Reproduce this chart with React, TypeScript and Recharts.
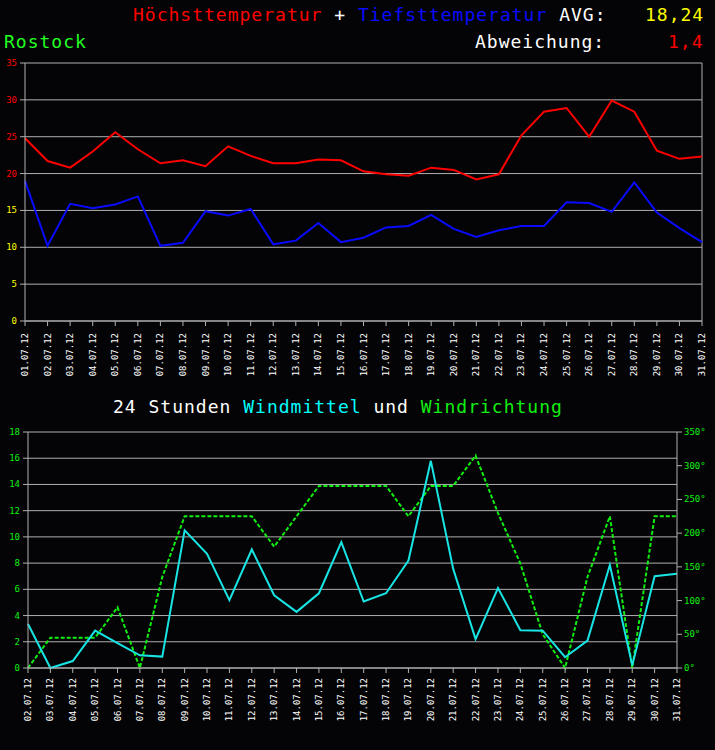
import React from 'react';
import { LineChart, Line, XAxis, YAxis, CartesianGrid, ReferenceLine } from 'recharts';

const topDates = [
  '01.07.12','02.07.12','03.07.12','04.07.12','05.07.12','06.07.12','07.07.12','08.07.12',
  '09.07.12','10.07.12','11.07.12','12.07.12','13.07.12','14.07.12','15.07.12','16.07.12',
  '17.07.12','18.07.12','19.07.12','20.07.12','21.07.12','22.07.12','23.07.12','24.07.12',
  '25.07.12','26.07.12','27.07.12','28.07.12','29.07.12','30.07.12','31.07.12',
];
const maxTemp = [24.8, 21.7, 20.8, 23.0, 25.6, 23.3, 21.4, 21.8, 21.0, 23.7, 22.4, 21.4, 21.4, 21.9, 21.8, 20.3, 19.9, 19.7, 20.8, 20.5, 19.2, 19.9, 25.2, 28.4, 28.9, 25.0, 29.9, 28.4, 23.1, 22.0, 22.3];
const minTemp = [19.0, 10.2, 15.9, 15.3, 15.8, 16.9, 10.2, 10.6, 14.9, 14.3, 15.2, 10.4, 10.9, 13.3, 10.7, 11.3, 12.7, 12.9, 14.4, 12.5, 11.4, 12.3, 12.9, 12.9, 16.1, 16.0, 14.8, 18.8, 14.7, 12.6, 10.7];

const windDates = [
  '02.07.12','03.07.12','04.07.12','05.07.12','06.07.12','07.07.12','08.07.12','09.07.12',
  '10.07.12','11.07.12','12.07.12','13.07.12','14.07.12','15.07.12','16.07.12','17.07.12',
  '18.07.12','19.07.12','20.07.12','21.07.12','22.07.12','23.07.12','24.07.12','25.07.12',
  '26.07.12','27.07.12','28.07.12','29.07.12','30.07.12','31.07.12',
];
const windSpeed = [3.36, 0, 0.53, 2.85, 1.9, 0.97, 0.87, 10.5, 8.7, 5.17, 9.04, 5.55, 4.28, 5.7, 9.6, 5.07, 5.7, 8.2, 15.8, 7.56, 2.2, 6.1, 2.88, 2.85, 0.82, 2.09, 7.85, 0.2, 7.0, 7.18];
const windDir = [0, 45, 45, 45, 90, 0, 135, 225, 225, 225, 225, 180, 225, 270, 270, 270, 270, 225, 270, 270, 315, 230, 155, 50, 0, 135, 225, 0, 225, 225];

const tempTicks = [0, 5, 10, 15, 20, 25, 30, 35];
const speedTicks = [0, 2, 4, 6, 8, 10, 12, 14, 16, 18];
const dirTicks = [0, 50, 100, 150, 200, 250, 300, 350];

const topData = topDates.map((d, i) => ({ date: d, max: maxTemp[i], min: minTemp[i] }));
const windData = windDates.map((d, i) => ({ date: d, speed: windSpeed[i], dir: windDir[i] }));

const FONT = '"DejaVu Sans Mono", monospace';
const GRID = '#b0b0b0';
const BG = '#040406';
const GREEN = '#11ee11';

const XTick = (props: any) => {
  const { x, y, payload, shift } = props;
  return (
    <g transform={`translate(${x},${y + shift})`}>
      <text transform="rotate(-90)" textAnchor="end" dominantBaseline="central" fill="#ffffff" fontSize={9} fontFamily={FONT}>
        {payload.value}
      </text>
    </g>
  );
};

const TempTick = (props: any) => {
  const { x, y, payload } = props;
  const v = payload.value;
  return (
    <text x={x} y={y} textAnchor="end" dominantBaseline="central" fill={v >= 20 ? '#ff0000' : '#ffff00'} fontSize={9} fontFamily={FONT}>
      {v}
    </text>
  );
};

const SpeedTick = (props: any) => {
  const { x, y, payload } = props;
  return (
    <text x={x} y={y} textAnchor="end" dominantBaseline="central" fill={GREEN} fontSize={9} fontFamily={FONT}>
      {payload.value}
    </text>
  );
};

const DirTick = (props: any) => {
  const { x, y, payload } = props;
  return (
    <text x={x} y={y} textAnchor="start" dominantBaseline="central" fill={GREEN} fontSize={9} fontFamily={FONT}>
      {payload.value + '°'}
    </text>
  );
};

export default function App() {
  return (
    <div style={{ position: 'fixed', left: 0, top: 0, width: 715, height: 750, background: BG, overflow: 'hidden' }}>
      <div style={{ position: 'absolute', left: 0, top: 0 }}>
        <LineChart width={715} height={395} data={topData} margin={{ top: 63, right: 13, bottom: 0, left: 0 }}>
          <CartesianGrid vertical={false} stroke={GRID} strokeWidth={1} />
          <XAxis
            dataKey="date"
            interval={0}
            height={74}
            tickSize={5}
            tickMargin={2}
            stroke={GRID}
            tickLine={{ stroke: GRID }}
            axisLine={{ stroke: GRID }}
            tick={(p: any) => <XTick {...p} shift={5} />}
          />
          <YAxis
            domain={[0, 35]}
            ticks={tempTicks}
            interval={0}
            width={25}
            tickSize={5}
            tickMargin={3}
            stroke={GRID}
            tickLine={{ stroke: GRID }}
            axisLine={{ stroke: GRID }}
            tick={(p: any) => <TempTick {...p} />}
          />
          <ReferenceLine x={topDates[topDates.length - 1]} stroke={GRID} />
          <Line type="linear" dataKey="max" stroke="#ff0000" strokeWidth={2} dot={false} isAnimationActive={false} />
          <Line type="linear" dataKey="min" stroke="#0a0aff" strokeWidth={2} dot={false} isAnimationActive={false} />
        </LineChart>
      </div>
      <div style={{ position: 'absolute', left: 0, top: 400 }}>
        <LineChart width={715} height={350} data={windData} margin={{ top: 32, right: 0, bottom: 0, left: 0 }}>
          <CartesianGrid vertical={false} stroke={GRID} strokeWidth={1} yAxisId="left" />
          <XAxis
            dataKey="date"
            interval={0}
            height={82}
            tickSize={5}
            tickMargin={2}
            stroke={GRID}
            tickLine={{ stroke: GRID }}
            axisLine={{ stroke: GRID }}
            tick={(p: any) => <XTick {...p} shift={3} />}
          />
          <YAxis
            yAxisId="left"
            domain={[0, 18]}
            ticks={speedTicks}
            interval={0}
            width={28}
            tickSize={5}
            tickMargin={3}
            stroke={GRID}
            tickLine={{ stroke: GRID }}
            axisLine={{ stroke: GRID }}
            tick={(p: any) => <SpeedTick {...p} />}
          />
          <YAxis
            yAxisId="right"
            orientation="right"
            domain={[0, 350]}
            ticks={dirTicks}
            interval={0}
            width={38}
            tickSize={5}
            tickMargin={2}
            stroke={GRID}
            tickLine={{ stroke: GRID }}
            axisLine={{ stroke: GRID }}
            tick={(p: any) => <DirTick {...p} />}
          />
          <Line yAxisId="right" type="linear" dataKey="dir" stroke={GREEN} strokeWidth={2} strokeDasharray="4 2" dot={false} isAnimationActive={false} />
          <Line yAxisId="left" type="linear" dataKey="speed" stroke="#18e4e4" strokeWidth={2} dot={false} isAnimationActive={false} />
        </LineChart>
      </div>
      <svg width={715} height={750} style={{ position: 'absolute', left: 0, top: 0, pointerEvents: 'none' }}>
        <g fontFamily={FONT} fontSize={18} letterSpacing={1}>
          <text x={133} y={21}>
            <tspan fill="#ff0000">Höchsttemperatur</tspan>
            <tspan fill="#ffffff">{' + '}</tspan>
            <tspan fill="#0a0aff">Tiefsttemperatur</tspan>
            <tspan fill="#ffffff">{' AVG:'}</tspan>
          </text>
          <text x={645} y={21} fill="#ffff00">18,24</text>
          <text x={4} y={48} fill="#22ff22">Rostock</text>
          <text x={475} y={48} fill="#ffffff">Abweichung:</text>
          <text x={668} y={48} fill="#ff0000">1,4</text>
          <text x={113} y={413}>
            <tspan fill="#ffffff">{'24 Stunden '}</tspan>
            <tspan fill="#00ffff">Windmittel</tspan>
            <tspan fill="#ffffff">{' und '}</tspan>
            <tspan fill="#11ee11">Windrichtung</tspan>
          </text>
        </g>
      </svg>
    </div>
  );
}
